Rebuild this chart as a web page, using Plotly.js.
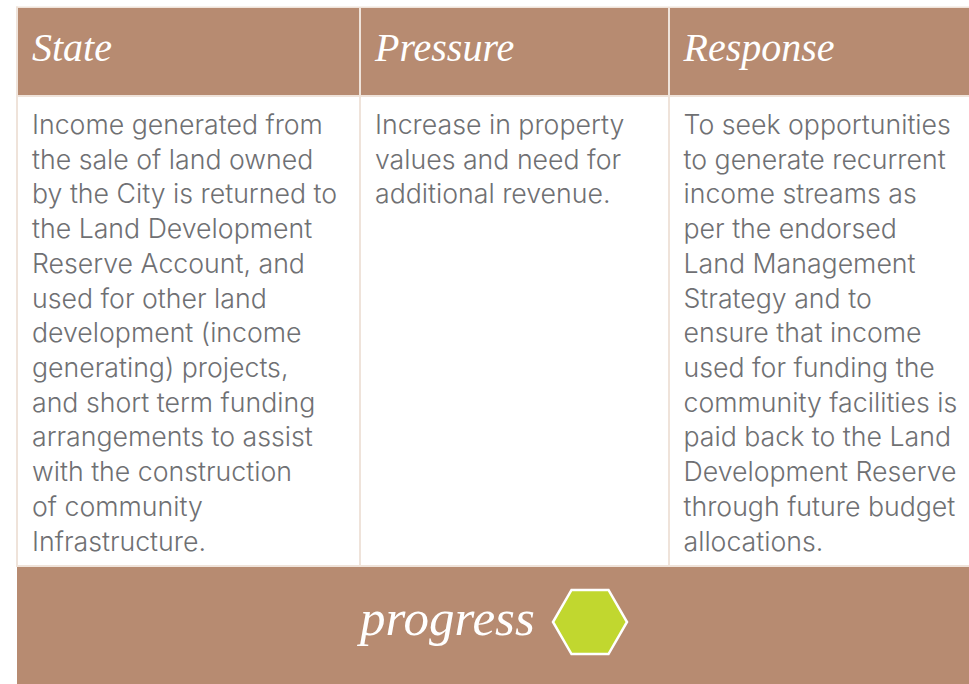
<!DOCTYPE html>
<html>
<head>
<meta charset="utf-8">
<script src="https://cdn.plot.ly/plotly-3.0.1.min.js"></script>
<style>html,body{margin:0;padding:0;background:#fff;overflow:hidden}</style>
</head>
<body>
<div id="chart" style="width:969px;height:684px"></div>
<script>
const headers = ["State", "Pressure", "Response"];
const stateLines = ["Income generated from","the sale of land owned","by the City is returned to","the Land Development","Reserve Account, and","used for other land","development (income","generating) projects,","and short term funding","arrangements to assist","with the construction","of community","Infrastructure."];
const pressureLines = ["Increase in property","values and need for","additional revenue."];
const responseLines = ["To seek opportunities","to generate recurrent","income streams as","per the endorsed","Land Management","Strategy and to","ensure that income","used for funding the","community facilities is","paid back to the Land","Development Reserve","through future budget","allocations."];
const footerLabel = "progress";
const statusColor = "#c1d72f";
const W = 969, H = 684;
const brown = "#b78b71", rule = "#efe3da";
const tableTrace = {
  type: "table",
  domain: {x: [24/W, 1], y: [1-590/H, 1-23/H]},
  columnwidth: [343, 308.5, 293.5],
  header: {
    values: headers.map(h => [h]),
    height: 77,
    align: "left",
    fill: {color: "rgba(0,0,0,0)"},
    line: {color: "rgba(0,0,0,0)", width: 0},
    font: {family: "Liberation Serif", size: 40, color: "#ffffff", style: "italic"}
  },
  cells: {
    values: [[stateLines.join("<br>")],[pressureLines.join("<br>")],[responseLines.join("<br>")]],
    height: 470,
    align: "left",
    fill: {color: "rgba(0,0,0,0)"},
    line: {color: "rgba(0,0,0,0)", width: 0},
    font: {family: "Inter", size: 26.7, color: "#6f7073", weight: 300}
  }
};
const hexTrace = {
  type: "scatter", mode: "markers", x: [590], y: [622], hoverinfo: "skip",
  marker: {symbol: "hexagon2", size: 74, color: statusColor, line: {color: "#ffffff", width: 2.5}}
};
function rect(x0,x1,y0,y1,c){return {type:"rect",xref:"x",yref:"y",x0,x1,y0,y1,fillcolor:c,line:{width:0},layer:"below"};}
const layout = {
  width: W, height: H, margin: {l:0,r:0,t:0,b:0}, showlegend: false,
  paper_bgcolor: "#fff", plot_bgcolor: "rgba(0,0,0,0)",
  xaxis: {range:[0,W], visible:false, fixedrange:true, domain:[0,1]},
  yaxis: {range:[H,0], visible:false, fixedrange:true, domain:[0,1]},
  shapes: [
    rect(17,W,7,96,brown), rect(17,W,566,H,brown),
    rect(16,W,6.5,8,rule), rect(16,W,95,97,rule), rect(16,W,565,567,rule),
    rect(16,18,6.5,566,rule), rect(359,361,7,566,rule), rect(668,670,7,566,rule)
  ],
  annotations: [{x:446, y:618, xref:"x", yref:"y", text:footerLabel, showarrow:false,
    font:{family:"Liberation Serif", size:51, color:"#fff", style:"italic"}}]
};
Plotly.newPlot("chart", [tableTrace, hexTrace], layout, {displayModeBar:false, staticPlot:true});
</script>
</body>
</html>
